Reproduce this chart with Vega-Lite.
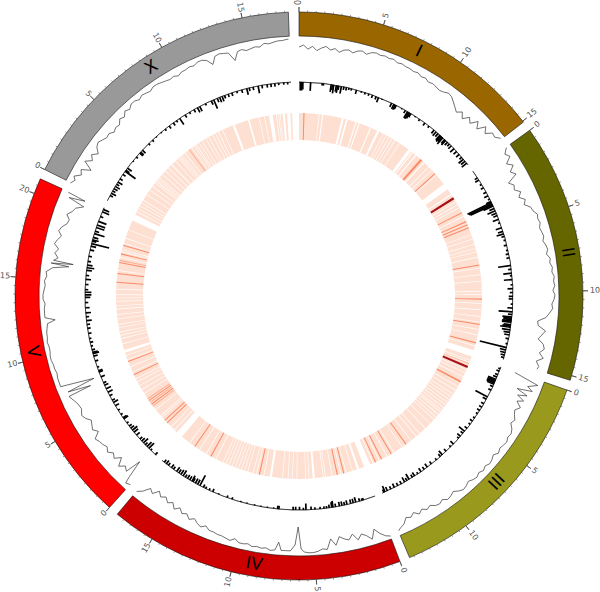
{"$schema":"https://vega.github.io/schema/vega-lite/v6.json","width":600,"height":592,"padding":0,"autosize":{"type":"none"},"background":"white","config":{"view":{"stroke":null},"text":{"font":"DejaVu Sans"}},
"datasets":{
"chroms":[{"chrom":"I","pos":0,"end":15.07},{"chrom":"II","pos":15.67,"end":30.95},{"chrom":"III","pos":31.55,"end":45.33},{"chrom":"IV","pos":45.93,"end":63.42},{"chrom":"V","pos":64.02,"end":84.94},{"chrom":"X","pos":85.54,"end":103.26}],
"chromLabels":[{"chrom":"I","mid":7.53,"flip":0},{"chrom":"II","mid":23.31,"flip":0},{"chrom":"III","mid":38.44,"flip":1},{"chrom":"IV","mid":54.68,"flip":1},{"chrom":"V","mid":74.48,"flip":1},{"chrom":"X","mid":94.4,"flip":0}],
"major":[{"pos":0,"label":"0"},{"pos":5,"label":"5"},{"pos":10,"label":"10"},{"pos":15,"label":"15"},{"pos":15.67,"label":"0"},{"pos":20.67,"label":"5"},{"pos":25.67,"label":"10"},{"pos":30.67,"label":"15"},{"pos":31.55,"label":"0"},{"pos":36.55,"label":"5"},{"pos":41.55,"label":"10"},{"pos":45.93,"label":"0"},{"pos":50.93,"label":"5"},{"pos":55.93,"label":"10"},{"pos":60.93,"label":"15"},{"pos":64.02,"label":"0"},{"pos":69.02,"label":"5"},{"pos":74.02,"label":"10"},{"pos":79.02,"label":"15"},{"pos":84.02,"label":"20"},{"pos":85.54,"label":"0"},{"pos":90.54,"label":"5"},{"pos":95.54,"label":"10"},{"pos":100.54,"label":"15"}],
"minor":[{"pos":0.5},{"pos":1},{"pos":1.5},{"pos":2},{"pos":2.5},{"pos":3},{"pos":3.5},{"pos":4},{"pos":4.5},{"pos":5.5},{"pos":6},{"pos":6.5},{"pos":7},{"pos":7.5},{"pos":8},{"pos":8.5},{"pos":9},{"pos":9.5},{"pos":10.5},{"pos":11},{"pos":11.5},{"pos":12},{"pos":12.5},{"pos":13},{"pos":13.5},{"pos":14},{"pos":14.5},{"pos":16.17},{"pos":16.67},{"pos":17.17},{"pos":17.67},{"pos":18.17},{"pos":18.67},{"pos":19.17},{"pos":19.67},{"pos":20.17},{"pos":21.17},{"pos":21.67},{"pos":22.17},{"pos":22.67},{"pos":23.17},{"pos":23.67},{"pos":24.17},{"pos":24.67},{"pos":25.17},{"pos":26.17},{"pos":26.67},{"pos":27.17},{"pos":27.67},{"pos":28.17},{"pos":28.67},{"pos":29.17},{"pos":29.67},{"pos":30.17},{"pos":32.05},{"pos":32.55},{"pos":33.05},{"pos":33.55},{"pos":34.05},{"pos":34.55},{"pos":35.05},{"pos":35.55},{"pos":36.05},{"pos":37.05},{"pos":37.55},{"pos":38.05},{"pos":38.55},{"pos":39.05},{"pos":39.55},{"pos":40.05},{"pos":40.55},{"pos":41.05},{"pos":42.05},{"pos":42.55},{"pos":43.05},{"pos":43.55},{"pos":44.05},{"pos":44.55},{"pos":45.05},{"pos":46.43},{"pos":46.93},{"pos":47.43},{"pos":47.93},{"pos":48.43},{"pos":48.93},{"pos":49.43},{"pos":49.93},{"pos":50.43},{"pos":51.43},{"pos":51.93},{"pos":52.43},{"pos":52.93},{"pos":53.43},{"pos":53.93},{"pos":54.43},{"pos":54.93},{"pos":55.43},{"pos":56.43},{"pos":56.93},{"pos":57.43},{"pos":57.93},{"pos":58.43},{"pos":58.93},{"pos":59.43},{"pos":59.93},{"pos":60.43},{"pos":61.43},{"pos":61.93},{"pos":62.43},{"pos":62.93},{"pos":64.52},{"pos":65.02},{"pos":65.52},{"pos":66.02},{"pos":66.52},{"pos":67.02},{"pos":67.52},{"pos":68.02},{"pos":68.52},{"pos":69.52},{"pos":70.02},{"pos":70.52},{"pos":71.02},{"pos":71.52},{"pos":72.02},{"pos":72.52},{"pos":73.02},{"pos":73.52},{"pos":74.52},{"pos":75.02},{"pos":75.52},{"pos":76.02},{"pos":76.52},{"pos":77.02},{"pos":77.52},{"pos":78.02},{"pos":78.52},{"pos":79.52},{"pos":80.02},{"pos":80.52},{"pos":81.02},{"pos":81.52},{"pos":82.02},{"pos":82.52},{"pos":83.02},{"pos":83.52},{"pos":84.52},{"pos":86.04},{"pos":86.54},{"pos":87.04},{"pos":87.54},{"pos":88.04},{"pos":88.54},{"pos":89.04},{"pos":89.54},{"pos":90.04},{"pos":91.04},{"pos":91.54},{"pos":92.04},{"pos":92.54},{"pos":93.04},{"pos":93.54},{"pos":94.04},{"pos":94.54},{"pos":95.04},{"pos":96.04},{"pos":96.54},{"pos":97.04},{"pos":97.54},{"pos":98.04},{"pos":98.54},{"pos":99.04},{"pos":99.54},{"pos":100.04},{"pos":101.04},{"pos":101.54},{"pos":102.04},{"pos":102.54},{"pos":103.04}],
"signal":[{"pos":0,"val":9},{"pos":0.3,"val":7},{"pos":0.6,"val":11},{"pos":0.9,"val":8},{"pos":1.2,"val":12},{"pos":1.5,"val":9},{"pos":1.8,"val":7},{"pos":2.1,"val":10},{"pos":2.4,"val":8},{"pos":2.7,"val":11},{"pos":3,"val":8},{"pos":3.3,"val":7},{"pos":3.6,"val":9},{"pos":3.9,"val":6},{"pos":4.2,"val":5},{"pos":4.5,"val":7},{"pos":4.8,"val":4},{"pos":5.1,"val":3},{"pos":5.4,"val":4},{"pos":5.7,"val":3},{"pos":6,"val":4},{"pos":6.3,"val":3},{"pos":6.6,"val":5},{"pos":6.9,"val":4},{"pos":7.2,"val":5},{"pos":7.5,"val":5},{"pos":7.8,"val":6},{"pos":8.1,"val":5},{"pos":8.4,"val":7},{"pos":8.7,"val":6},{"pos":9,"val":8},{"pos":9.3,"val":7},{"pos":9.6,"val":8},{"pos":9.9,"val":9},{"pos":10.2,"val":8},{"pos":10.5,"val":6},{"pos":10.8,"val":7},{"pos":11.1,"val":10},{"pos":11.4,"val":13},{"pos":11.7,"val":16},{"pos":12,"val":12},{"pos":12.3,"val":17},{"pos":12.6,"val":11},{"pos":12.9,"val":15},{"pos":13.2,"val":8},{"pos":13.5,"val":14},{"pos":13.8,"val":6},{"pos":14.1,"val":11},{"pos":14.4,"val":5},{"pos":14.7,"val":6},{"pos":15,"val":2},
{"pos":15.7,"val":3},{"pos":16,"val":8},{"pos":16.3,"val":5},{"pos":16.6,"val":12},{"pos":16.9,"val":7},{"pos":17.2,"val":13},{"pos":17.5,"val":9},{"pos":17.8,"val":20},{"pos":18.1,"val":16},{"pos":18.4,"val":18},{"pos":18.7,"val":13},{"pos":19,"val":17},{"pos":19.3,"val":12},{"pos":19.6,"val":15},{"pos":19.9,"val":10},{"pos":20.2,"val":9},{"pos":20.5,"val":6},{"pos":20.8,"val":7},{"pos":21.1,"val":6},{"pos":21.4,"val":8},{"pos":21.7,"val":7},{"pos":22,"val":6},{"pos":22.3,"val":8},{"pos":22.6,"val":6},{"pos":22.9,"val":5},{"pos":23.2,"val":7},{"pos":23.5,"val":4},{"pos":23.8,"val":5},{"pos":24.1,"val":3},{"pos":24.4,"val":4},{"pos":24.7,"val":2},{"pos":25,"val":3},{"pos":25.3,"val":2},{"pos":25.6,"val":4},{"pos":25.9,"val":2},{"pos":26.2,"val":3},{"pos":26.5,"val":5},{"pos":26.8,"val":4},{"pos":27.1,"val":7},{"pos":27.4,"val":10},{"pos":27.7,"val":18},{"pos":28,"val":17},{"pos":28.3,"val":9},{"pos":28.6,"val":12},{"pos":28.9,"val":15},{"pos":29.2,"val":9},{"pos":29.5,"val":7},{"pos":29.8,"val":11},{"pos":30.1,"val":6},{"pos":30.4,"val":12},{"pos":30.7,"val":8},{"pos":30.9,"val":9},
{"pos":31.6,"val":29},{"pos":31.9,"val":3},{"pos":32.2,"val":12},{"pos":32.4,"val":6},{"pos":32.6,"val":21},{"pos":32.8,"val":9},{"pos":33,"val":18},{"pos":33.2,"val":10},{"pos":33.4,"val":16},{"pos":33.7,"val":10},{"pos":34,"val":14},{"pos":34.3,"val":12},{"pos":34.6,"val":9},{"pos":34.9,"val":11},{"pos":35.2,"val":7},{"pos":35.5,"val":5},{"pos":35.8,"val":6},{"pos":36.1,"val":4},{"pos":36.4,"val":5},{"pos":36.7,"val":6},{"pos":37,"val":4},{"pos":37.3,"val":7},{"pos":37.6,"val":5},{"pos":37.9,"val":4},{"pos":38.2,"val":6},{"pos":38.5,"val":4},{"pos":38.8,"val":6},{"pos":39.1,"val":4},{"pos":39.4,"val":5},{"pos":39.7,"val":7},{"pos":40,"val":5},{"pos":40.3,"val":4},{"pos":40.6,"val":6},{"pos":40.9,"val":9},{"pos":41.2,"val":7},{"pos":41.5,"val":6},{"pos":41.8,"val":9},{"pos":42.1,"val":7},{"pos":42.4,"val":8},{"pos":42.7,"val":11},{"pos":43,"val":9},{"pos":43.3,"val":12},{"pos":43.6,"val":9},{"pos":43.9,"val":13},{"pos":44.2,"val":10},{"pos":44.5,"val":12},{"pos":44.8,"val":7},{"pos":45.1,"val":5},{"pos":45.3,"val":3},
{"pos":45.9,"val":1},{"pos":46.2,"val":3},{"pos":46.5,"val":7},{"pos":46.8,"val":13},{"pos":47.1,"val":4},{"pos":47.4,"val":9},{"pos":47.7,"val":12},{"pos":48,"val":7},{"pos":48.3,"val":14},{"pos":48.6,"val":9},{"pos":48.9,"val":11},{"pos":49.2,"val":14},{"pos":49.5,"val":6},{"pos":49.8,"val":13},{"pos":50.1,"val":3},{"pos":50.4,"val":4},{"pos":50.7,"val":2},{"pos":51,"val":1},{"pos":51.3,"val":1},{"pos":51.6,"val":2},{"pos":51.8,"val":5},{"pos":52,"val":27},{"pos":52.2,"val":9},{"pos":52.5,"val":3},{"pos":52.8,"val":3},{"pos":53.1,"val":3},{"pos":53.3,"val":11},{"pos":53.5,"val":3},{"pos":53.8,"val":2},{"pos":54.1,"val":4},{"pos":54.4,"val":3},{"pos":54.7,"val":4},{"pos":55,"val":3},{"pos":55.3,"val":5},{"pos":55.6,"val":4},{"pos":55.9,"val":4},{"pos":56.2,"val":7},{"pos":56.5,"val":4},{"pos":56.8,"val":5},{"pos":57.1,"val":6},{"pos":57.4,"val":6},{"pos":57.7,"val":7},{"pos":58,"val":7},{"pos":58.3,"val":10},{"pos":58.6,"val":7},{"pos":58.9,"val":9},{"pos":59.2,"val":12},{"pos":59.5,"val":9},{"pos":59.8,"val":13},{"pos":60.1,"val":11},{"pos":60.4,"val":15},{"pos":60.7,"val":11},{"pos":61,"val":16},{"pos":61.3,"val":13},{"pos":61.6,"val":17},{"pos":61.9,"val":14},{"pos":62.2,"val":18},{"pos":62.5,"val":12},{"pos":62.8,"val":15},{"pos":63.1,"val":8},{"pos":63.4,"val":4},
{"pos":64,"val":5},{"pos":64.3,"val":3},{"pos":64.4,"val":10},{"pos":64.6,"val":28},{"pos":64.8,"val":12},{"pos":65.1,"val":15},{"pos":65.4,"val":10},{"pos":65.7,"val":18},{"pos":66,"val":12},{"pos":66.3,"val":15},{"pos":66.6,"val":11},{"pos":66.9,"val":14},{"pos":67.2,"val":12},{"pos":67.5,"val":11},{"pos":67.8,"val":9},{"pos":68.1,"val":16},{"pos":68.4,"val":12},{"pos":68.7,"val":14},{"pos":69,"val":16},{"pos":69.3,"val":12},{"pos":69.6,"val":10},{"pos":70,"val":13},{"pos":70.4,"val":12},{"pos":70.7,"val":10},{"pos":71.1,"val":7},{"pos":71.2,"val":31},{"pos":71.4,"val":8},{"pos":71.6,"val":37},{"pos":71.9,"val":3},{"pos":72.2,"val":3},{"pos":72.5,"val":3},{"pos":72.8,"val":4},{"pos":73.1,"val":3},{"pos":73.4,"val":3},{"pos":73.7,"val":2},{"pos":74,"val":2},{"pos":74.3,"val":3},{"pos":74.6,"val":3},{"pos":74.9,"val":2},{"pos":75.2,"val":3},{"pos":75.5,"val":3},{"pos":75.8,"val":4},{"pos":76.1,"val":5},{"pos":76.3,"val":13},{"pos":76.5,"val":3},{"pos":76.8,"val":3},{"pos":77.1,"val":3},{"pos":77.4,"val":4},{"pos":77.7,"val":2},{"pos":78,"val":2},{"pos":78.3,"val":3},{"pos":78.6,"val":4},{"pos":78.9,"val":3},{"pos":79.2,"val":5},{"pos":79.5,"val":4},{"pos":79.8,"val":10},{"pos":80,"val":26},{"pos":80.1,"val":8},{"pos":80.2,"val":30},{"pos":80.3,"val":10},{"pos":80.5,"val":14},{"pos":80.8,"val":10},{"pos":81.1,"val":13},{"pos":81.4,"val":8},{"pos":81.7,"val":10},{"pos":82,"val":13},{"pos":82.3,"val":9},{"pos":82.6,"val":11},{"pos":82.9,"val":15},{"pos":83.2,"val":16},{"pos":83.5,"val":12},{"pos":83.8,"val":16},{"pos":84.1,"val":18},{"pos":84.4,"val":25},{"pos":84.6,"val":8},{"pos":84.8,"val":24},{"pos":84.9,"val":5},
{"pos":85.5,"val":3},{"pos":85.8,"val":6},{"pos":86,"val":3},{"pos":86.3,"val":9},{"pos":86.6,"val":6},{"pos":86.9,"val":15},{"pos":87.2,"val":5},{"pos":87.5,"val":11},{"pos":87.8,"val":7},{"pos":88.1,"val":12},{"pos":88.4,"val":7},{"pos":88.7,"val":5},{"pos":89,"val":7},{"pos":89.3,"val":9},{"pos":89.6,"val":8},{"pos":89.9,"val":11},{"pos":90.2,"val":9},{"pos":90.5,"val":10},{"pos":90.8,"val":6},{"pos":91.1,"val":8},{"pos":91.4,"val":4},{"pos":91.7,"val":6},{"pos":92,"val":3},{"pos":92.3,"val":3},{"pos":92.6,"val":5},{"pos":92.9,"val":3},{"pos":93.2,"val":4},{"pos":93.5,"val":5},{"pos":93.8,"val":3},{"pos":94.1,"val":3},{"pos":94.4,"val":4},{"pos":94.7,"val":5},{"pos":95,"val":6},{"pos":95.3,"val":5},{"pos":95.6,"val":7},{"pos":95.9,"val":5},{"pos":96.2,"val":5},{"pos":96.5,"val":4},{"pos":96.8,"val":5},{"pos":97.1,"val":3},{"pos":97.4,"val":3},{"pos":97.7,"val":5},{"pos":98,"val":11},{"pos":98.3,"val":4},{"pos":98.6,"val":3},{"pos":98.9,"val":4},{"pos":99.2,"val":5},{"pos":99.5,"val":14},{"pos":99.8,"val":6},{"pos":100.1,"val":5},{"pos":100.4,"val":7},{"pos":100.7,"val":6},{"pos":101,"val":5},{"pos":101.3,"val":6},{"pos":101.6,"val":3},{"pos":101.9,"val":4},{"pos":102.2,"val":3},{"pos":102.5,"val":2},{"pos":102.8,"val":2},{"pos":103.1,"val":1},{"pos":103.2,"val":1}],
"hist":[{"pos":0.1,"val":8},{"pos":0.2,"val":8},{"pos":0.3,"val":7},{"pos":0.9,"val":8},{"pos":1.8,"val":2},{"pos":1.9,"val":2},{"pos":2.5,"val":7},{"pos":2.6,"val":5},{"pos":2.7,"val":8},{"pos":2.9,"val":6},{"pos":3,"val":7},{"pos":3.1,"val":4},{"pos":3.3,"val":7},{"pos":3.5,"val":3},{"pos":3.7,"val":3},{"pos":3.9,"val":2},{"pos":4.1,"val":2},{"pos":4.5,"val":4},{"pos":4.9,"val":1.5},{"pos":5.2,"val":2},{"pos":5.5,"val":2},{"pos":5.8,"val":3},{"pos":6.1,"val":3},{"pos":6.3,"val":5},{"pos":6.6,"val":1},{"pos":7.4,"val":4},{"pos":7.6,"val":5},{"pos":7.7,"val":5},{"pos":7.8,"val":4},{"pos":8.3,"val":1},{"pos":8.6,"val":3},{"pos":8.8,"val":7},{"pos":8.9,"val":7},{"pos":9,"val":6},{"pos":9.1,"val":4},{"pos":9.5,"val":1},{"pos":9.9,"val":2},{"pos":10.4,"val":3},{"pos":10.8,"val":2},{"pos":11.3,"val":4},{"pos":11.5,"val":5},{"pos":11.7,"val":4},{"pos":11.9,"val":6},{"pos":12,"val":7},{"pos":12.1,"val":6},{"pos":12.2,"val":8},{"pos":12.4,"val":5},{"pos":12.5,"val":6},{"pos":12.7,"val":4},{"pos":12.9,"val":3},{"pos":13.1,"val":4},{"pos":13.4,"val":5},{"pos":13.7,"val":4},{"pos":14,"val":4},{"pos":14.3,"val":3},{"pos":14.5,"val":6},{"pos":14.7,"val":5},{"pos":14.9,"val":6},
{"pos":16.3,"val":3},{"pos":16.5,"val":4},{"pos":16.9,"val":2},{"pos":17.2,"val":3},{"pos":17.6,"val":3},{"pos":17.9,"val":4},{"pos":18.2,"val":2},{"pos":18.4,"val":5},{"pos":18.5,"val":25},{"pos":18.6,"val":24},{"pos":18.7,"val":23},{"pos":18.8,"val":10},{"pos":19,"val":5},{"pos":19.2,"val":8},{"pos":19.4,"val":5},{"pos":19.6,"val":4},{"pos":19.9,"val":6},{"pos":20.2,"val":2},{"pos":20.6,"val":6},{"pos":20.9,"val":5},{"pos":21.1,"val":7},{"pos":21.3,"val":3},{"pos":21.6,"val":2},{"pos":22,"val":3},{"pos":22.4,"val":2},{"pos":22.7,"val":3},{"pos":23,"val":3},{"pos":23.6,"val":12},{"pos":23.9,"val":3},{"pos":24.2,"val":8},{"pos":24.4,"val":2},{"pos":24.7,"val":8},{"pos":25.1,"val":2},{"pos":25.4,"val":5},{"pos":25.7,"val":3},{"pos":26,"val":4},{"pos":26.2,"val":4},{"pos":26.6,"val":2},{"pos":26.9,"val":5},{"pos":27.2,"val":13},{"pos":27.4,"val":4},{"pos":27.6,"val":9},{"pos":27.7,"val":8},{"pos":27.8,"val":8},{"pos":27.9,"val":9},{"pos":28,"val":9},{"pos":28.2,"val":7},{"pos":28.3,"val":8},{"pos":28.4,"val":10},{"pos":28.6,"val":8},{"pos":28.8,"val":6},{"pos":29,"val":5},{"pos":29.3,"val":3},{"pos":29.7,"val":2},{"pos":30,"val":26},{"pos":30.2,"val":6},{"pos":30.4,"val":5},{"pos":30.6,"val":4},{"pos":30.8,"val":3},
{"pos":31.7,"val":2},{"pos":31.9,"val":3},{"pos":32.2,"val":3},{"pos":32.4,"val":4},{"pos":32.6,"val":8},{"pos":32.7,"val":8},{"pos":32.8,"val":8},{"pos":32.9,"val":8},{"pos":33,"val":7},{"pos":33.2,"val":3},{"pos":33.5,"val":3},{"pos":34.1,"val":13},{"pos":34.3,"val":4},{"pos":34.7,"val":3},{"pos":35,"val":3},{"pos":35.3,"val":3},{"pos":35.6,"val":2},{"pos":36,"val":2},{"pos":36.3,"val":3},{"pos":36.6,"val":2},{"pos":37,"val":3},{"pos":37.3,"val":7},{"pos":37.5,"val":3},{"pos":37.8,"val":4},{"pos":38,"val":2},{"pos":38.6,"val":4},{"pos":38.9,"val":2},{"pos":39.4,"val":3},{"pos":39.8,"val":5},{"pos":40,"val":3},{"pos":40.4,"val":2},{"pos":40.9,"val":3},{"pos":41.3,"val":4},{"pos":41.6,"val":3},{"pos":41.9,"val":4},{"pos":42.2,"val":2},{"pos":42.5,"val":4},{"pos":42.7,"val":3},{"pos":43,"val":6},{"pos":43.2,"val":3},{"pos":43.4,"val":5},{"pos":43.7,"val":3},{"pos":44,"val":3},{"pos":44.3,"val":4},{"pos":44.6,"val":3},{"pos":44.9,"val":4},{"pos":45.1,"val":6},{"pos":45.2,"val":3},
{"pos":46.9,"val":2},{"pos":47,"val":2},{"pos":47.2,"val":3},{"pos":47.5,"val":5},{"pos":47.7,"val":4},{"pos":47.9,"val":4},{"pos":48.2,"val":4},{"pos":48.4,"val":3},{"pos":48.6,"val":4},{"pos":48.8,"val":4},{"pos":49.1,"val":3},{"pos":49.3,"val":6},{"pos":49.4,"val":5},{"pos":49.6,"val":3},{"pos":49.8,"val":2},{"pos":50,"val":2},{"pos":50.3,"val":2},{"pos":50.7,"val":2},{"pos":51,"val":3},{"pos":51.4,"val":6},{"pos":51.6,"val":2},{"pos":51.9,"val":3},{"pos":52.2,"val":3},{"pos":52.4,"val":3},{"pos":53.5,"val":3},{"pos":53.6,"val":3},{"pos":53.9,"val":1},{"pos":54.4,"val":1},{"pos":54.9,"val":1},{"pos":55.4,"val":1},{"pos":56,"val":1},{"pos":56.5,"val":1},{"pos":57.2,"val":2},{"pos":57.6,"val":2},{"pos":58.3,"val":1},{"pos":58.8,"val":3},{"pos":59.1,"val":2},{"pos":59.4,"val":2},{"pos":59.6,"val":3},{"pos":59.9,"val":11},{"pos":60.1,"val":5},{"pos":60.3,"val":5},{"pos":60.5,"val":4},{"pos":60.6,"val":6},{"pos":60.8,"val":4},{"pos":61,"val":4},{"pos":61.2,"val":3},{"pos":61.4,"val":6},{"pos":61.6,"val":5},{"pos":61.8,"val":4},{"pos":62,"val":5},{"pos":62.3,"val":3},{"pos":62.5,"val":4},{"pos":62.8,"val":3},{"pos":63,"val":4},{"pos":63.2,"val":3},
{"pos":64.1,"val":3},{"pos":64.6,"val":2},{"pos":64.8,"val":7},{"pos":65,"val":6},{"pos":65.2,"val":3},{"pos":65.4,"val":6},{"pos":65.6,"val":4},{"pos":65.8,"val":3},{"pos":66.2,"val":4},{"pos":66.5,"val":5},{"pos":66.7,"val":6},{"pos":66.9,"val":4},{"pos":67.1,"val":3},{"pos":67.4,"val":2},{"pos":67.8,"val":5},{"pos":67.9,"val":4},{"pos":68.2,"val":2},{"pos":68.6,"val":2},{"pos":69,"val":4},{"pos":69.3,"val":5},{"pos":69.5,"val":3},{"pos":69.9,"val":3},{"pos":70.2,"val":5},{"pos":70.5,"val":5},{"pos":70.8,"val":4},{"pos":71,"val":3},{"pos":71.5,"val":4},{"pos":71.9,"val":4},{"pos":72,"val":4},{"pos":72.3,"val":2},{"pos":72.8,"val":3},{"pos":73.2,"val":4},{"pos":73.4,"val":6},{"pos":73.5,"val":5},{"pos":73.7,"val":3},{"pos":74,"val":2},{"pos":74.3,"val":3},{"pos":74.6,"val":2},{"pos":75,"val":3},{"pos":75.4,"val":3},{"pos":75.7,"val":3},{"pos":76,"val":5},{"pos":76.3,"val":3},{"pos":76.6,"val":5},{"pos":77,"val":4},{"pos":77.4,"val":3},{"pos":77.8,"val":5},{"pos":78,"val":6},{"pos":78.2,"val":6},{"pos":78.4,"val":3},{"pos":78.8,"val":3},{"pos":79.2,"val":5},{"pos":79.5,"val":3},{"pos":79.9,"val":5},{"pos":80.1,"val":7},{"pos":80.3,"val":5},{"pos":80.6,"val":3},{"pos":81,"val":3},{"pos":81.5,"val":4},{"pos":81.8,"val":5},{"pos":82,"val":17},{"pos":82.2,"val":4},{"pos":82.3,"val":6},{"pos":82.5,"val":5},{"pos":82.8,"val":10},{"pos":83,"val":4},{"pos":83.3,"val":8},{"pos":83.5,"val":8},{"pos":83.8,"val":8},{"pos":84.2,"val":3},{"pos":84.6,"val":7},{"pos":84.8,"val":6},
{"pos":86,"val":3},{"pos":86.2,"val":5},{"pos":86.4,"val":3},{"pos":86.6,"val":4},{"pos":86.8,"val":5},{"pos":87,"val":3},{"pos":87.2,"val":5},{"pos":87.5,"val":3},{"pos":87.9,"val":3},{"pos":88.2,"val":12},{"pos":88.3,"val":4},{"pos":88.5,"val":5},{"pos":89.2,"val":1},{"pos":89.6,"val":2},{"pos":90,"val":4},{"pos":90.1,"val":4},{"pos":90.3,"val":4},{"pos":91,"val":2},{"pos":91.4,"val":2},{"pos":91.8,"val":1},{"pos":92.3,"val":1},{"pos":92.7,"val":2},{"pos":93.1,"val":3},{"pos":93.5,"val":3},{"pos":93.8,"val":2},{"pos":94.1,"val":7},{"pos":94.6,"val":3},{"pos":95,"val":2},{"pos":95.4,"val":3},{"pos":95.7,"val":5},{"pos":95.9,"val":5},{"pos":96.4,"val":2},{"pos":96.9,"val":4},{"pos":97.1,"val":9},{"pos":97.4,"val":4},{"pos":97.6,"val":5},{"pos":97.8,"val":5},{"pos":98,"val":3},{"pos":98.3,"val":3},{"pos":98.6,"val":3},{"pos":99,"val":2},{"pos":99.4,"val":3},{"pos":99.8,"val":6},{"pos":100,"val":3},{"pos":100.3,"val":3},{"pos":100.7,"val":7},{"pos":101,"val":3},{"pos":101.4,"val":3},{"pos":101.7,"val":3},{"pos":102,"val":3},{"pos":102.3,"val":2},{"pos":102.7,"val":2},{"pos":103,"val":2}],
"ring":[{"pos":1.8,"end":1.86,"level":"gap"},{"pos":2.1,"end":2.2,"level":"gap"},{"pos":3.9,"end":4.1,"level":"gap"},{"pos":4.3,"end":4.45,"level":"gap"},{"pos":5.2,"end":5.3,"level":"gap"},{"pos":5.5,"end":5.6,"level":"gap"},{"pos":6.6,"end":6.7,"level":"gap"},{"pos":7.3,"end":7.5,"level":"gap"},{"pos":7.9,"end":7.96,"level":"gap"},{"pos":8.2,"end":8.26,"level":"gap"},{"pos":8.5,"end":8.56,"level":"gap"},{"pos":8.8,"end":8.86,"level":"gap"},{"pos":9.1,"end":9.16,"level":"gap"},{"pos":9.6,"end":9.66,"level":"gap"},{"pos":10.6,"end":10.9,"level":"gap"},{"pos":11,"end":11.1,"level":"gap"},{"pos":11.4,"end":11.5,"level":"gap"},{"pos":12.4,"end":12.5,"level":"gap"},{"pos":13,"end":13.06,"level":"gap"},{"pos":13.4,"end":13.46,"level":"gap"},{"pos":14,"end":14.06,"level":"gap"},
{"pos":16.2,"end":16.3,"level":"gap"},{"pos":17,"end":17.06,"level":"gap"},{"pos":17.3,"end":17.36,"level":"gap"},{"pos":17.6,"end":17.66,"level":"gap"},{"pos":18.5,"end":18.56,"level":"gap"},{"pos":20.3,"end":20.36,"level":"gap"},{"pos":20.7,"end":20.76,"level":"gap"},{"pos":21.2,"end":21.26,"level":"gap"},{"pos":21.6,"end":21.66,"level":"gap"},{"pos":21.9,"end":21.96,"level":"gap"},{"pos":22.4,"end":22.46,"level":"gap"},{"pos":23.4,"end":23.46,"level":"gap"},{"pos":24,"end":24.06,"level":"gap"},{"pos":24.6,"end":24.66,"level":"gap"},{"pos":25.5,"end":25.56,"level":"gap"},{"pos":25.8,"end":25.86,"level":"gap"},{"pos":26.6,"end":26.66,"level":"gap"},{"pos":27.2,"end":27.26,"level":"gap"},{"pos":27.8,"end":27.86,"level":"gap"},{"pos":28.3,"end":28.36,"level":"gap"},{"pos":29,"end":29.06,"level":"gap"},{"pos":29.5,"end":29.56,"level":"gap"},{"pos":30.5,"end":30.56,"level":"gap"},
{"pos":31.9,"end":31.96,"level":"gap"},{"pos":32.1,"end":32.16,"level":"gap"},{"pos":32.8,"end":32.86,"level":"gap"},{"pos":33.1,"end":33.16,"level":"gap"},{"pos":33.5,"end":33.56,"level":"gap"},{"pos":34.5,"end":34.56,"level":"gap"},{"pos":34.9,"end":34.96,"level":"gap"},{"pos":35.3,"end":35.36,"level":"gap"},{"pos":35.6,"end":35.66,"level":"gap"},{"pos":35.9,"end":35.96,"level":"gap"},{"pos":36.2,"end":36.26,"level":"gap"},{"pos":36.5,"end":36.56,"level":"gap"},{"pos":36.8,"end":36.86,"level":"gap"},{"pos":37.1,"end":37.16,"level":"gap"},{"pos":37.3,"end":37.36,"level":"gap"},{"pos":37.6,"end":37.66,"level":"gap"},{"pos":37.9,"end":37.96,"level":"gap"},{"pos":38.2,"end":38.26,"level":"gap"},{"pos":38.7,"end":38.76,"level":"gap"},{"pos":39.3,"end":39.36,"level":"gap"},{"pos":40,"end":40.06,"level":"gap"},{"pos":40.4,"end":40.46,"level":"gap"},{"pos":41,"end":41.06,"level":"gap"},{"pos":42,"end":42.06,"level":"gap"},{"pos":42.9,"end":42.96,"level":"gap"},{"pos":43.6,"end":43.66,"level":"gap"},{"pos":44.4,"end":44.46,"level":"gap"},{"pos":45,"end":45.06,"level":"gap"},
{"pos":46.4,"end":46.6,"level":"gap"},{"pos":47,"end":47.06,"level":"gap"},{"pos":47.6,"end":47.66,"level":"gap"},{"pos":48.1,"end":48.16,"level":"gap"},{"pos":48.9,"end":48.96,"level":"gap"},{"pos":49.5,"end":49.56,"level":"gap"},{"pos":49.7,"end":49.76,"level":"gap"},{"pos":50.5,"end":50.7,"level":"gap"},{"pos":51,"end":51.06,"level":"gap"},{"pos":51.3,"end":51.36,"level":"gap"},{"pos":52.1,"end":52.16,"level":"gap"},{"pos":52.5,"end":52.56,"level":"gap"},{"pos":52.9,"end":52.96,"level":"gap"},{"pos":53.4,"end":53.46,"level":"gap"},{"pos":54.4,"end":54.6,"level":"gap"},{"pos":55.1,"end":55.16,"level":"gap"},{"pos":55.8,"end":55.86,"level":"gap"},{"pos":56.1,"end":56.16,"level":"gap"},{"pos":56.6,"end":56.66,"level":"gap"},{"pos":56.9,"end":56.96,"level":"gap"},{"pos":57.2,"end":57.26,"level":"gap"},{"pos":57.5,"end":57.56,"level":"gap"},{"pos":57.8,"end":57.86,"level":"gap"},{"pos":58.1,"end":58.16,"level":"gap"},{"pos":58.4,"end":58.46,"level":"gap"},{"pos":58.7,"end":58.76,"level":"gap"},{"pos":59,"end":59.06,"level":"gap"},{"pos":59.7,"end":59.76,"level":"gap"},{"pos":60.7,"end":60.76,"level":"gap"},{"pos":61.4,"end":61.46,"level":"gap"},{"pos":62.5,"end":62.56,"level":"gap"},
{"pos":64.3,"end":64.36,"level":"gap"},{"pos":64.7,"end":64.76,"level":"gap"},{"pos":65.9,"end":65.96,"level":"gap"},{"pos":66.1,"end":66.16,"level":"gap"},{"pos":66.8,"end":66.86,"level":"gap"},{"pos":68.6,"end":68.66,"level":"gap"},{"pos":69,"end":69.06,"level":"gap"},{"pos":69.4,"end":69.46,"level":"gap"},{"pos":69.8,"end":69.86,"level":"gap"},{"pos":70.1,"end":70.16,"level":"gap"},{"pos":70.8,"end":70.86,"level":"gap"},{"pos":71.3,"end":71.36,"level":"gap"},{"pos":72,"end":72.06,"level":"gap"},{"pos":72.4,"end":72.46,"level":"gap"},{"pos":72.7,"end":72.95,"level":"gap"},{"pos":73.5,"end":73.56,"level":"gap"},{"pos":74,"end":74.06,"level":"gap"},{"pos":74.3,"end":74.36,"level":"gap"},{"pos":74.6,"end":74.66,"level":"gap"},{"pos":75,"end":75.06,"level":"gap"},{"pos":75.3,"end":75.36,"level":"gap"},{"pos":75.8,"end":75.86,"level":"gap"},{"pos":76.2,"end":76.26,"level":"gap"},{"pos":76.7,"end":76.76,"level":"gap"},{"pos":77,"end":77.06,"level":"gap"},{"pos":77.4,"end":77.46,"level":"gap"},{"pos":77.7,"end":77.76,"level":"gap"},{"pos":78,"end":78.06,"level":"gap"},{"pos":78.5,"end":78.56,"level":"gap"},{"pos":80.2,"end":80.26,"level":"gap"},{"pos":81.4,"end":81.46,"level":"gap"},{"pos":81.9,"end":81.96,"level":"gap"},{"pos":82.1,"end":82.16,"level":"gap"},{"pos":82.7,"end":82.76,"level":"gap"},{"pos":83.2,"end":83.26,"level":"gap"},{"pos":84,"end":84.06,"level":"gap"},
{"pos":85.8,"end":85.86,"level":"gap"},{"pos":86.1,"end":86.16,"level":"gap"},{"pos":86.4,"end":86.46,"level":"gap"},{"pos":86.7,"end":86.76,"level":"gap"},{"pos":87,"end":87.06,"level":"gap"},{"pos":87.6,"end":87.66,"level":"gap"},{"pos":88.1,"end":88.16,"level":"gap"},{"pos":88.5,"end":88.56,"level":"gap"},{"pos":88.9,"end":88.96,"level":"gap"},{"pos":89.1,"end":89.16,"level":"gap"},{"pos":89.3,"end":89.36,"level":"gap"},{"pos":89.5,"end":89.56,"level":"gap"},{"pos":89.9,"end":89.96,"level":"gap"},{"pos":90.3,"end":90.36,"level":"gap"},{"pos":90.7,"end":90.76,"level":"gap"},{"pos":91.1,"end":91.2,"level":"gap"},{"pos":91.6,"end":91.66,"level":"gap"},{"pos":92,"end":92.06,"level":"gap"},{"pos":92.2,"end":92.26,"level":"gap"},{"pos":92.4,"end":92.46,"level":"gap"},{"pos":92.7,"end":92.76,"level":"gap"},{"pos":93.5,"end":93.56,"level":"gap"},{"pos":93.8,"end":93.86,"level":"gap"},{"pos":94,"end":94.06,"level":"gap"},{"pos":94.3,"end":94.36,"level":"gap"},{"pos":94.6,"end":94.66,"level":"gap"},{"pos":95,"end":95.06,"level":"gap"},{"pos":95.3,"end":95.36,"level":"gap"},{"pos":95.7,"end":95.76,"level":"gap"},{"pos":96,"end":96.06,"level":"gap"},{"pos":96.3,"end":96.36,"level":"gap"},{"pos":96.7,"end":96.76,"level":"gap"},{"pos":97.74,"end":97.95,"level":"gap"},{"pos":99.2,"end":99.35,"level":"gap"},{"pos":100.2,"end":100.26,"level":"gap"},{"pos":100.7,"end":100.76,"level":"gap"},{"pos":101.15,"end":101.5,"level":"gap"},{"pos":101.8,"end":101.86,"level":"gap"},{"pos":102,"end":102.06,"level":"gap"},{"pos":102.15,"end":102.21,"level":"gap"},{"pos":102.4,"end":102.6,"level":"gap"},{"pos":102.8,"end":103.1,"level":"gap"},
{"pos":0.4,"end":0.5,"level":"mid"},{"pos":12,"end":12.2,"level":"mid"},{"pos":13.8,"end":13.9,"level":"mid"},{"pos":16.55,"end":16.75,"level":"high"},{"pos":18.1,"end":18.2,"level":"mid"},{"pos":19,"end":19.1,"level":"mid"},{"pos":19.3,"end":19.4,"level":"mid"},{"pos":19.6,"end":19.7,"level":"mid"},{"pos":23.1,"end":23.2,"level":"mid"},{"pos":26.2,"end":26.3,"level":"mid"},{"pos":28.5,"end":28.6,"level":"mid"},{"pos":30.2,"end":30.3,"level":"mid"},{"pos":32.2,"end":32.26,"level":"low"},{"pos":32.45,"end":32.65,"level":"high"},{"pos":33.95,"end":34.1,"level":"mid"},{"pos":41.55,"end":41.65,"level":"mid"},{"pos":43.15,"end":43.25,"level":"mid"},{"pos":44.15,"end":44.25,"level":"mid"},{"pos":44.75,"end":44.85,"level":"mid"},{"pos":47.8,"end":47.9,"level":"mid"},{"pos":48.4,"end":48.5,"level":"mid"},{"pos":55.5,"end":55.6,"level":"mid"},{"pos":60.2,"end":60.3,"level":"mid"},{"pos":61.9,"end":62,"level":"mid"},{"pos":65.2,"end":65.3,"level":"mid"},{"pos":65.5,"end":65.6,"level":"mid"},{"pos":67.2,"end":67.3,"level":"low"},{"pos":67.4,"end":67.5,"level":"mid"},{"pos":67.6,"end":67.7,"level":"low"},{"pos":67.8,"end":67.9,"level":"mid"},{"pos":68,"end":68.1,"level":"low"},{"pos":70.5,"end":70.6,"level":"mid"},{"pos":71.8,"end":71.9,"level":"mid"},{"pos":79.1,"end":79.2,"level":"mid"},{"pos":79.9,"end":80,"level":"mid"},{"pos":80.9,"end":81,"level":"mid"},{"pos":81.1,"end":81.2,"level":"low"},{"pos":81.7,"end":81.8,"level":"mid"},{"pos":82.5,"end":82.6,"level":"mid"},{"pos":93.2,"end":93.3,"level":"low"}]
},
"resolve":{"scale":{"radius":"independent","angle":"independent","color":"independent"}},
"layer":[
{"encoding":{"x":{"datum":0,"scale":{"domain":[-299,301],"range":[0,600]},"axis":null},"y":{"datum":0,"scale":{"domain":[-296,296],"range":[592,0]},"axis":null}},
"resolve":{"scale":{"radius":"independent","angle":"independent","color":"independent"}},
"layer":[
{"data":{"name":"chroms"},"mark":{"type":"arc","stroke":"#111","strokeWidth":0.6},"encoding":{"theta":{"field":"pos","type":"quantitative","scale":{"domain":[0,103.88],"range":[0,6.28319]}},"theta2":{"field":"end"},"radius":{"datum":284,"type":"quantitative","scale":{"domain":[0,300],"range":[0,300]}},"radius2":{"datum":260},"color":{"field":"chrom","type":"nominal","legend":null,"scale":{"domain":["I","II","III","IV","V","X"],"range":["#996600","#666600","#99991e","#cc0000","#ff0000","#999999"]}}}},
{"data":{"name":"minor"},"mark":{"type":"arc","stroke":"#555","strokeWidth":0.4,"fill":null},"encoding":{"theta":{"field":"pos","type":"quantitative","scale":{"domain":[0,103.88],"range":[0,6.28319]}},"theta2":{"field":"pos"},"radius":{"datum":285.5,"type":"quantitative","scale":{"domain":[0,300],"range":[0,300]}},"radius2":{"datum":284}}},
{"data":{"name":"major"},"mark":{"type":"arc","stroke":"#444","strokeWidth":0.7,"fill":null},"encoding":{"theta":{"field":"pos","type":"quantitative","scale":{"domain":[0,103.88],"range":[0,6.28319]}},"theta2":{"field":"pos"},"radius":{"datum":289,"type":"quantitative","scale":{"domain":[0,300],"range":[0,300]}},"radius2":{"datum":284}}},
{"data":{"name":"major"},"transform":[{"filter":"datum.pos<51.94"}],"mark":{"type":"text","align":"left","baseline":"middle","fontSize":8,"color":"#555"},"encoding":{"theta":{"field":"pos","type":"quantitative","scale":{"domain":[0,103.88],"range":[0,6.28319]}},"radius":{"datum":291,"type":"quantitative","scale":{"domain":[0,300],"range":[0,300]}},"angle":{"field":"pos","type":"quantitative","scale":{"domain":[0,103.88],"range":[-90,270]}},"text":{"field":"label"}}},
{"data":{"name":"major"},"transform":[{"filter":"datum.pos>=51.94"}],"mark":{"type":"text","align":"right","baseline":"middle","fontSize":8,"color":"#555"},"encoding":{"theta":{"field":"pos","type":"quantitative","scale":{"domain":[0,103.88],"range":[0,6.28319]}},"radius":{"datum":289.5,"type":"quantitative","scale":{"domain":[0,300],"range":[0,300]}},"angle":{"field":"pos","type":"quantitative","scale":{"domain":[0,103.88],"range":[-270,90]}},"text":{"field":"label"}}},
{"data":{"name":"chromLabels"},"transform":[{"filter":"datum.flip==0"}],"mark":{"type":"text","align":"center","baseline":"middle","fontSize":17,"color":"black"},"encoding":{"theta":{"field":"mid","type":"quantitative","scale":{"domain":[0,103.88],"range":[0,6.28319]}},"radius":{"datum":272,"type":"quantitative","scale":{"domain":[0,300],"range":[0,300]}},"angle":{"field":"mid","type":"quantitative","scale":{"domain":[0,103.88],"range":[0,360]}},"text":{"field":"chrom"}}},
{"data":{"name":"chromLabels"},"transform":[{"filter":"datum.flip==1"}],"mark":{"type":"text","align":"center","baseline":"middle","fontSize":17,"color":"black"},"encoding":{"theta":{"field":"mid","type":"quantitative","scale":{"domain":[0,103.88],"range":[0,6.28319]}},"radius":{"datum":272,"type":"quantitative","scale":{"domain":[0,300],"range":[0,300]}},"angle":{"field":"mid","type":"quantitative","scale":{"domain":[0,103.88],"range":[-180,180]}},"text":{"field":"chrom"}}},
{"data":{"name":"chroms"},"mark":{"type":"arc","stroke":"black","strokeWidth":0.5,"fill":null},"encoding":{"theta":{"field":"pos","type":"quantitative","scale":{"domain":[0,103.88],"range":[0,6.28319]}},"theta2":{"field":"end"},"radius":{"datum":214,"type":"quantitative","scale":{"domain":[0,300],"range":[0,300]}},"radius2":{"datum":214}}},
{"data":{"name":"hist"},"mark":{"type":"arc","stroke":"black","strokeWidth":1.7,"fill":null},"encoding":{"theta":{"field":"pos","type":"quantitative","scale":{"domain":[0,103.88],"range":[0,6.28319]}},"theta2":{"field":"pos"},"radius":{"field":"val","type":"quantitative","scale":{"domain":[0,30],"range":[214,182]}},"radius2":{"datum":0}}},
{"data":{"name":"chroms"},"mark":{"type":"arc","fill":"#fee0d2"},"encoding":{"theta":{"field":"pos","type":"quantitative","scale":{"domain":[0,103.88],"range":[0,6.28319]}},"theta2":{"field":"end"},"radius":{"datum":183,"type":"quantitative","scale":{"domain":[0,300],"range":[0,300]}},"radius2":{"datum":156}}},
{"data":{"name":"ring"},"mark":{"type":"arc"},"encoding":{"theta":{"field":"pos","type":"quantitative","scale":{"domain":[0,103.88],"range":[0,6.28319]}},"theta2":{"field":"end"},"radius":{"datum":183,"type":"quantitative","scale":{"domain":[0,300],"range":[0,300]}},"radius2":{"datum":156},"color":{"field":"level","type":"nominal","legend":null,"scale":{"domain":["gap","low","mid","high"],"range":["#ffffff","#fcae91","#fb8a68","#a50f15"]}}}}
]},
{"data":{"name":"signal"},"transform":[{"calculate":"(258-datum.val)*sin(datum.pos/103.88*2*PI)","as":"px"},{"calculate":"(258-datum.val)*cos(datum.pos/103.88*2*PI)","as":"py"},{"calculate":"datum.pos<15.4?'I':datum.pos<31.2?'II':datum.pos<45.6?'III':datum.pos<63.7?'IV':datum.pos<85.2?'V':'X'","as":"chrom"}],"mark":{"type":"line","stroke":"#333","strokeWidth":0.7},"encoding":{"x":{"field":"px","type":"quantitative","scale":{"domain":[-299,301],"range":[0,600]},"axis":null},"y":{"field":"py","type":"quantitative","scale":{"domain":[-296,296],"range":[592,0]},"axis":null},"detail":{"field":"chrom"},"order":{"field":"pos","type":"quantitative"}}}
]}
